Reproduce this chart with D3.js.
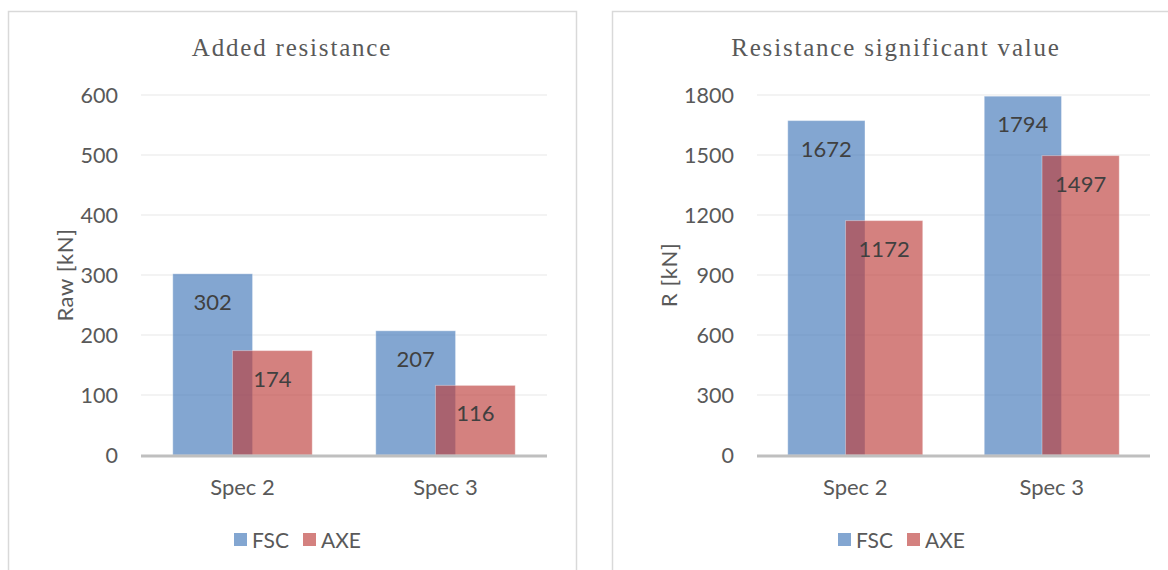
<!DOCTYPE html>
<html lang="en">
<head>
  <meta charset="UTF-8">
  <title>Added resistance / Resistance significant value</title>
  <script src="https://d3js.org/d3.v7.min.js"></script>
  <style>
    body {
      margin: 0;
      background: #fff;
    }
    svg text {
      font-family: Lato, "Open Sans", sans-serif;
    }
    .title {
      font-family: "Liberation Serif", "Times New Roman", serif !important;
      font-size: 25px;
      letter-spacing: 1.8px;
      fill: #595959;
    }
  </style>
</head>
<body>
  <svg id="chart" width="1168" height="570"></svg>

  <script>
    const categories = ["Spec 2", "Spec 3"];
    const seriesNames = ["FSC", "AXE"];

    // Added resistance
    const addedFSC = [302, 207];
    const addedAXE = [174, 116];
    const addedTicks = [0, 100, 200, 300, 400, 500, 600];

    // Resistance significant value
    const sigFSC = [1672, 1794];
    const sigAXE = [1172, 1497];
    const sigTicks = [0, 300, 600, 900, 1200, 1500, 1800];

    const colors = { FSC: "#4076b8", AXE: "#bd3d3a" };
    const barOpacity = 0.65;

    const svg = d3.select("#chart");

    function drawChart(cfg) {
      const g = svg.append("g");

      // panel border
      g.append("rect")
        .attr("x", cfg.left + 0.5)
        .attr("y", 11.5)
        .attr("width", 568)
        .attr("height", 600)
        .attr("fill", "#fff")
        .attr("stroke", "#d9d9d9")
        .attr("stroke-width", 1.5);

      const panelCx = cfg.left + 284;

      g.append("text")
        .attr("class", "title")
        .attr("x", panelCx)
        .attr("y", 56)
        .attr("text-anchor", "middle")
        .text(cfg.title);

      const x0 = d3.scaleBand()
        .domain(categories)
        .range([cfg.plotLeft, cfg.plotRight])
        .padding(0);

      const y = d3.scaleLinear()
        .domain([0, d3.max(cfg.ticks)])
        .range([455, 95]);

      // gridlines
      g.append("g")
        .selectAll("line")
        .data(cfg.ticks.slice(1))
        .join("line")
        .attr("x1", cfg.plotLeft)
        .attr("x2", cfg.plotRight)
        .attr("y1", d => y(d))
        .attr("y2", d => y(d))
        .attr("stroke", "#efefef")
        .attr("stroke-width", 1.5);

      // y tick labels
      g.append("g")
        .selectAll("text")
        .data(cfg.ticks)
        .join("text")
        .attr("x", cfg.plotLeft - 23)
        .attr("y", d => y(d))
        .attr("dy", "0.36em")
        .attr("text-anchor", "end")
        .style("font-size", "21.5px")
        .style("fill", "#595959")
        .text(d => d);

      // y axis title
      g.append("text")
        .attr("transform", `translate(${cfg.left + 57},${(y(0) + y(d3.max(cfg.ticks))) / 2}) rotate(-90)`)
        .attr("text-anchor", "middle")
        .attr("dy", "0.36em")
        .style("font-size", "22px")
        .style("letter-spacing", "0.6px")
        .style("fill", "#595959")
        .text(cfg.yTitle);

      const bw = x0.bandwidth();
      const barW = bw * 0.393;
      const off = bw * 0.147;

      const rows = [];
      seriesNames.forEach((s, si) => {
        categories.forEach((c, ci) => {
          rows.push({ s, si, c, v: cfg.values[s][ci] });
        });
      });
      const cx = d => x0(d.c) + bw / 2 + (d.si === 0 ? -off : off);

      // bars
      g.append("g")
        .selectAll("rect")
        .data(rows)
        .join("rect")
        .attr("x", d => cx(d) - barW / 2)
        .attr("y", d => y(d.v))
        .attr("width", barW)
        .attr("height", d => y(0) - y(d.v))
        .attr("fill", d => colors[d.s])
        .attr("fill-opacity", barOpacity)
        .attr("stroke", "#fff")
        .attr("stroke-opacity", 0.35)
        .attr("stroke-width", 1);

      // data labels
      g.append("g")
        .selectAll("text")
        .data(rows)
        .join("text")
        .attr("x", d => cx(d))
        .attr("y", d => y(d.v) + 28)
        .attr("dy", "0.36em")
        .attr("text-anchor", "middle")
        .style("font-size", "22px")
        .style("fill", "#404040")
        .text(d => d.v);

      // baseline
      g.append("line")
        .attr("x1", cfg.plotLeft)
        .attr("x2", cfg.plotRight)
        .attr("y1", y(0) + 1)
        .attr("y2", y(0) + 1)
        .attr("stroke", "#bfbfbf")
        .attr("stroke-width", 3);

      // category labels
      g.append("g")
        .selectAll("text")
        .data(categories)
        .join("text")
        .attr("x", d => x0(d) + bw / 2)
        .attr("y", 487)
        .attr("dy", "0.36em")
        .attr("text-anchor", "middle")
        .style("font-size", "22px")
        .style("fill", "#595959")
        .text(d => d);

      // legend
      const leg = g.append("g").attr("transform", `translate(${panelCx - 58},540)`);
      const item = leg.selectAll("g")
        .data(seriesNames)
        .join("g")
        .attr("transform", (d, i) => `translate(${i * 69},0)`);
      item.append("rect")
        .attr("x", 0)
        .attr("y", -7)
        .attr("width", 13)
        .attr("height", 13)
        .attr("fill", d => colors[d])
        .attr("fill-opacity", barOpacity);
      item.append("text")
        .attr("x", 18)
        .attr("y", 0)
        .attr("dy", "0.36em")
        .style("font-size", "21px")
        .style("fill", "#595959")
        .text(d => d);
    }

    drawChart({
      left: 8,
      plotLeft: 141,
      plotRight: 547,
      title: "Added resistance",
      yTitle: "Raw [kN]",
      ticks: addedTicks,
      values: { FSC: addedFSC, AXE: addedAXE }
    });

    drawChart({
      left: 612,
      plotLeft: 757,
      plotRight: 1150,
      title: "Resistance significant value",
      yTitle: "R [kN]",
      ticks: sigTicks,
      values: { FSC: sigFSC, AXE: sigAXE }
    });
  </script>
</body>
</html>
